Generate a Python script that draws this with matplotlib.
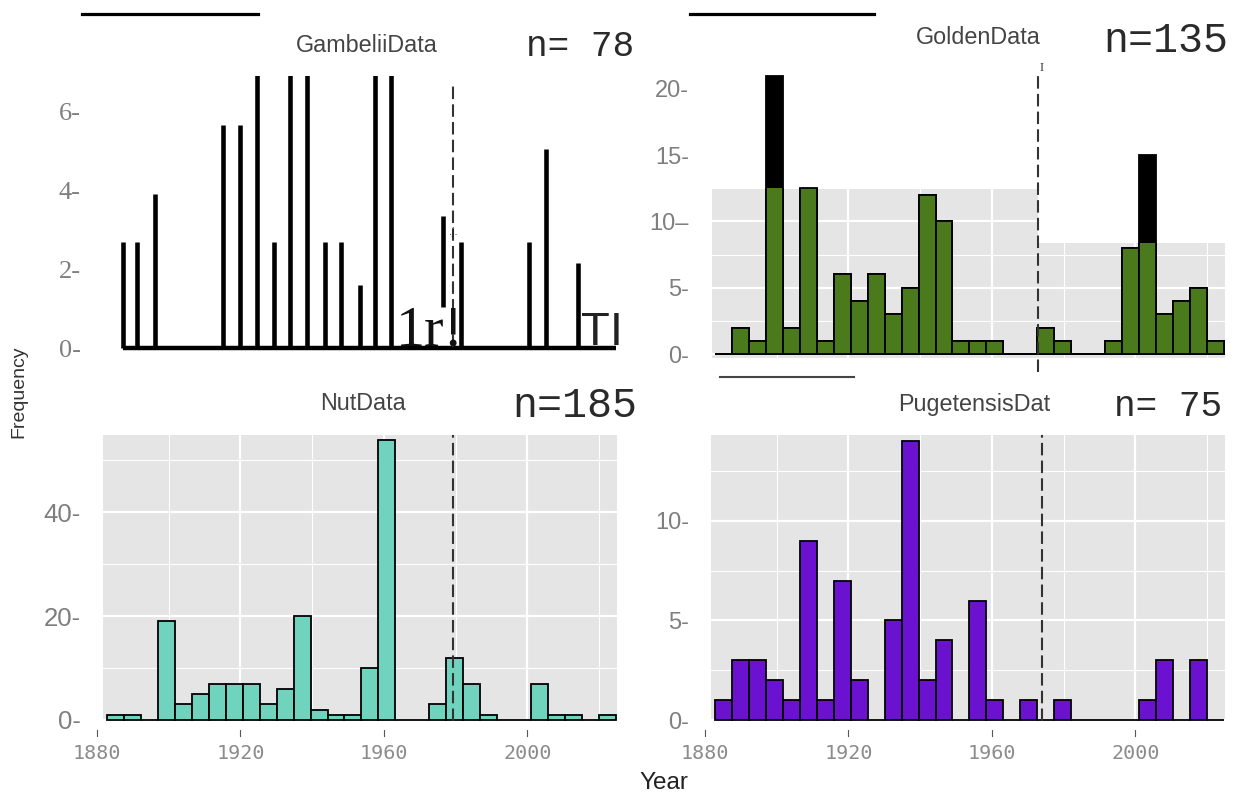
import numpy as np
import matplotlib
matplotlib.use("Agg")
import matplotlib.pyplot as plt
from matplotlib.path import Path
from matplotlib.patches import PathPatch
from matplotlib.lines import Line2D

W, H = 1235, 795

# ---- values ----
# all four panels use the same 30 histogram bins
bin_start = 1882.85
bin_width = 4.727

nut_counts = [1, 1, 0, 19, 3, 5, 7, 7, 7, 3, 6, 20, 2, 1, 1, 10, 54, 0, 0, 3,
              12, 7, 1, 0, 0, 7, 1, 1, 0, 1]
golden_counts = [0, 2, 1, 21, 2, 12.5, 1, 6, 4, 6, 3, 5, 12, 10, 1, 1, 1, 0, 0, 2,
                 1, 0, 0, 1, 8, 15, 3, 4, 5, 1]
puget_counts = [1, 3, 3, 2, 1, 9, 1, 7, 2, 0, 5, 14, 2, 4, 0, 6, 1, 0, 1, 0,
                1, 0, 0, 0, 0, 1, 3, 0, 3, 0]

# Gambelii panel only survives as loose black bar edges
gam_years = [1887.2, 1891.2, 1896.3, 1915.1, 1920.0, 1924.6, 1929.4, 1933.9, 1938.7,
             1943.6, 1948.1, 1953.3, 1957.6, 1962.1, 1976.6, 1981.4, 2000.5, 2005.3, 2014.2]
gam_top = [2.7, 2.7, 3.9, 5.65, 5.65, 7, 2.7, 7, 7, 2.7, 2.7, 1.6, 7, 7, 3.35, 2.7,
           2.7, 5.05, 2.15]
gam_bottom = [0, 0, 0, 0, 0, 0, 0, 0, 0, 0, 0, 0, 0, 0, 1.05, 0, 0, 0, 0]

gam_cut = 1979.3
golden_cut = 1972.9
nut_cut = 1979.3
puget_cut = 1973.9

# golden background is chopped off at two heights, either side of the cutoff
golden_bg_top = [12.5, 8.4]

titles = ["GambeliiData", "GoldenData", "NutData", "PugetensisDat"]
n_labels = ["n= 78", "n=135", "n=185", "n= 75"]
year_ticks = [1880, 1920, 1960, 2000]

lefts = bin_start + bin_width * np.arange(len(nut_counts))
x_end = bin_start + bin_width * len(nut_counts)

GRAY = "#e5e5e5"
DASH = (0, (6, 2.5))

fig = plt.figure(figsize=(W / 100, H / 100), dpi=100)


def panel(l, t, r, b, ylim):
    ax = fig.add_axes([l / W, 1 - b / H, (r - l) / W, (b - t) / H])
    for s in ax.spines.values():
        s.set_visible(False)
    ax.set_xlim(1881.7, 2025.0)
    ax.set_ylim(*ylim)
    ax.set_xticks([])
    ax.set_facecolor("none")
    return ax


def ylabels(ax, ticks, labels, family, size):
    ax.set_yticks(ticks)
    ax.set_yticklabels(labels, family=family, fontsize=size, color="#7f7f7f")
    ax.tick_params(axis="y", length=0, pad=16)


def grid(ax, ymaj, ymin, clip=None):
    lines = []
    for x in [1880, 1920, 1960, 2000]:
        lines.append(ax.axvline(x, color="white", lw=1.6, zorder=0.5))
    for x in [1900, 1940, 1980, 2020]:
        lines.append(ax.axvline(x, color="white", lw=0.8, zorder=0.5))
    for y in ymaj:
        lines.append(ax.axhline(y, color="white", lw=1.6, zorder=0.5))
    for y in ymin:
        lines.append(ax.axhline(y, color="white", lw=0.8, zorder=0.5))
    if clip is not None:
        for ln in lines:
            ln.set_clip_path(clip)


def year_axis(ax):
    tr = ax.get_xaxis_transform()
    for t in year_ticks:
        ax.text(t, -0.112, str(t), transform=tr, ha="center", va="center",
                fontsize=14.5, family="DejaVu Sans Mono", color="#8c8c8c", clip_on=False)
        ax.plot([t, t], [-0.031, -0.052], transform=tr, color="#555555", lw=0.8,
                clip_on=False)


ax_gam = panel(103, 76, 617, 352, (-0.1, 6.9))
ax_gold = panel(711, 65, 1225, 358, (-0.3, 21.8))
ax_nut = panel(103, 435, 617, 721, (-0.2, 54.9))
ax_pug = panel(711, 435, 1225, 721, (-0.05, 14.32))

# --- Gambelii ---
ax_gam.vlines(gam_years, gam_bottom, gam_top, colors="black", lw=3.3, zorder=2)
ax_gam.hlines(0, gam_years[0], x_end, colors="black", lw=3.2, zorder=2)
ax_gam.axvline(gam_cut, 0.018, 0.975, color="#333333", lw=1.5, ls=DASH, zorder=4)
ylabels(ax_gam, [0, 2, 4, 6], ["0-", "2-", "4-", "6-"], "Liberation Serif", 19)

# --- Golden ---
def rect_path(x0, y0, x1, y1):
    return Path([(x0, y0), (x1, y0), (x1, y1), (x0, y1), (x0, y0)],
                [Path.MOVETO, Path.LINETO, Path.LINETO, Path.LINETO, Path.CLOSEPOLY])


bg_path = Path.make_compound_path(
    rect_path(1882.1, -0.3, golden_cut, golden_bg_top[0]),
    rect_path(golden_cut, -0.3, 2025.0, golden_bg_top[1]))
bg = PathPatch(bg_path, facecolor=GRAY, edgecolor="none", zorder=0)
ax_gold.add_patch(bg)
grid(ax_gold, [0, 5, 10, 15, 20], [2.5, 7.5, 12.5, 17.5], clip=bg)
ax_gold.bar(lefts, golden_counts, bin_width, align="edge", color="black",
            edgecolor="black", lw=1.3, zorder=2)
green = ax_gold.bar(lefts, golden_counts, bin_width, align="edge", color="#4a7a1c",
                    edgecolor="black", lw=1.3, zorder=3)
for b in green:
    b.set_clip_path(bg)
ax_gold.axvline(golden_cut, -0.048, 0.967, color="#333333", lw=1.5, ls=DASH,
                zorder=4, clip_on=False)
ylabels(ax_gold, [0, 5, 10, 15, 20], ["0-", "5-", "10\u2013", "15-", "20-"],
        "Liberation Sans", 17)

# --- Nut ---
ax_nut.set_facecolor(GRAY)
grid(ax_nut, [0, 20, 40], [10, 30, 50])
ax_nut.bar(lefts, nut_counts, bin_width, align="edge", color="#6fd3bd",
           edgecolor="black", lw=1.3, zorder=2)
ax_nut.axvline(nut_cut, color="#333333", lw=1.5, ls=DASH, zorder=4)
ylabels(ax_nut, [0, 20, 40], ["0-", "20-", "40-"], "Liberation Sans", 18.5)
year_axis(ax_nut)

# --- Pugetensis ---
ax_pug.set_facecolor(GRAY)
grid(ax_pug, [0, 5, 10], [2.5, 7.5, 12.5])
ax_pug.bar(lefts, puget_counts, bin_width, align="edge", color="#6a12cf",
           edgecolor="black", lw=1.3, zorder=2)
ax_pug.axvline(puget_cut, color="#333333", lw=1.5, ls=DASH, zorder=4)
ylabels(ax_pug, [0, 5, 10], ["0-", "5-", "10-"], "Liberation Sans", 17)
year_axis(ax_pug)


# ---- text and leftover marks ----
def ftext(x, y, s, **kw):
    fig.text(x / W, 1 - y / H, s, **kw)


for (x, y), t in zip([(367, 46), (978, 38), (363, 404), (974, 404)], titles):
    ftext(x, y, t, ha="center", va="center", fontsize=16.8,
          family="Liberation Sans", color="#444444")

for (x, y, s), t in zip([(580, 46, 26), (1166, 41, 30), (575, 406, 30), (1168, 406, 26)],
                        n_labels):
    ftext(x, y, t, ha="center", va="center", fontsize=s,
          family="Liberation Mono", color="#2a2a2a")

ftext(664, 783, "Year", ha="center", va="center", fontsize=17.5,
      family="Liberation Sans", color="#222222")
ftext(19, 392, "Frequency", ha="center", va="center", rotation=90, fontsize=14,
      family="Liberation Sans", color="#333333")

ftext(396, 346, "1r!", ha="left", va="baseline", fontsize=42,
      family="Liberation Serif", color="#111111")
ftext(581, 345, "TI", ha="left", va="baseline", fontsize=34,
      family="Liberation Sans", color="#222222")
ftext(453, 232, ".j.", ha="center", va="center", fontsize=8,
      family="Liberation Sans", color="#222222")
ftext(1042, 68, "I", ha="center", va="center", fontsize=9,
      family="Liberation Serif", color="#333333")

for (x0, x1, y, lw, c) in [(82, 258, 13.5, 2.3, "black"),
                           (690, 874, 13.5, 2.3, "black"),
                           (720, 854, 376.5, 1.5, "#444444")]:
    fig.add_artist(Line2D([x0 / W, x1 / W], [1 - y / H, 1 - y / H],
                          transform=fig.transFigure, color=c, lw=lw))

fig.savefig("out.png", dpi=100)
